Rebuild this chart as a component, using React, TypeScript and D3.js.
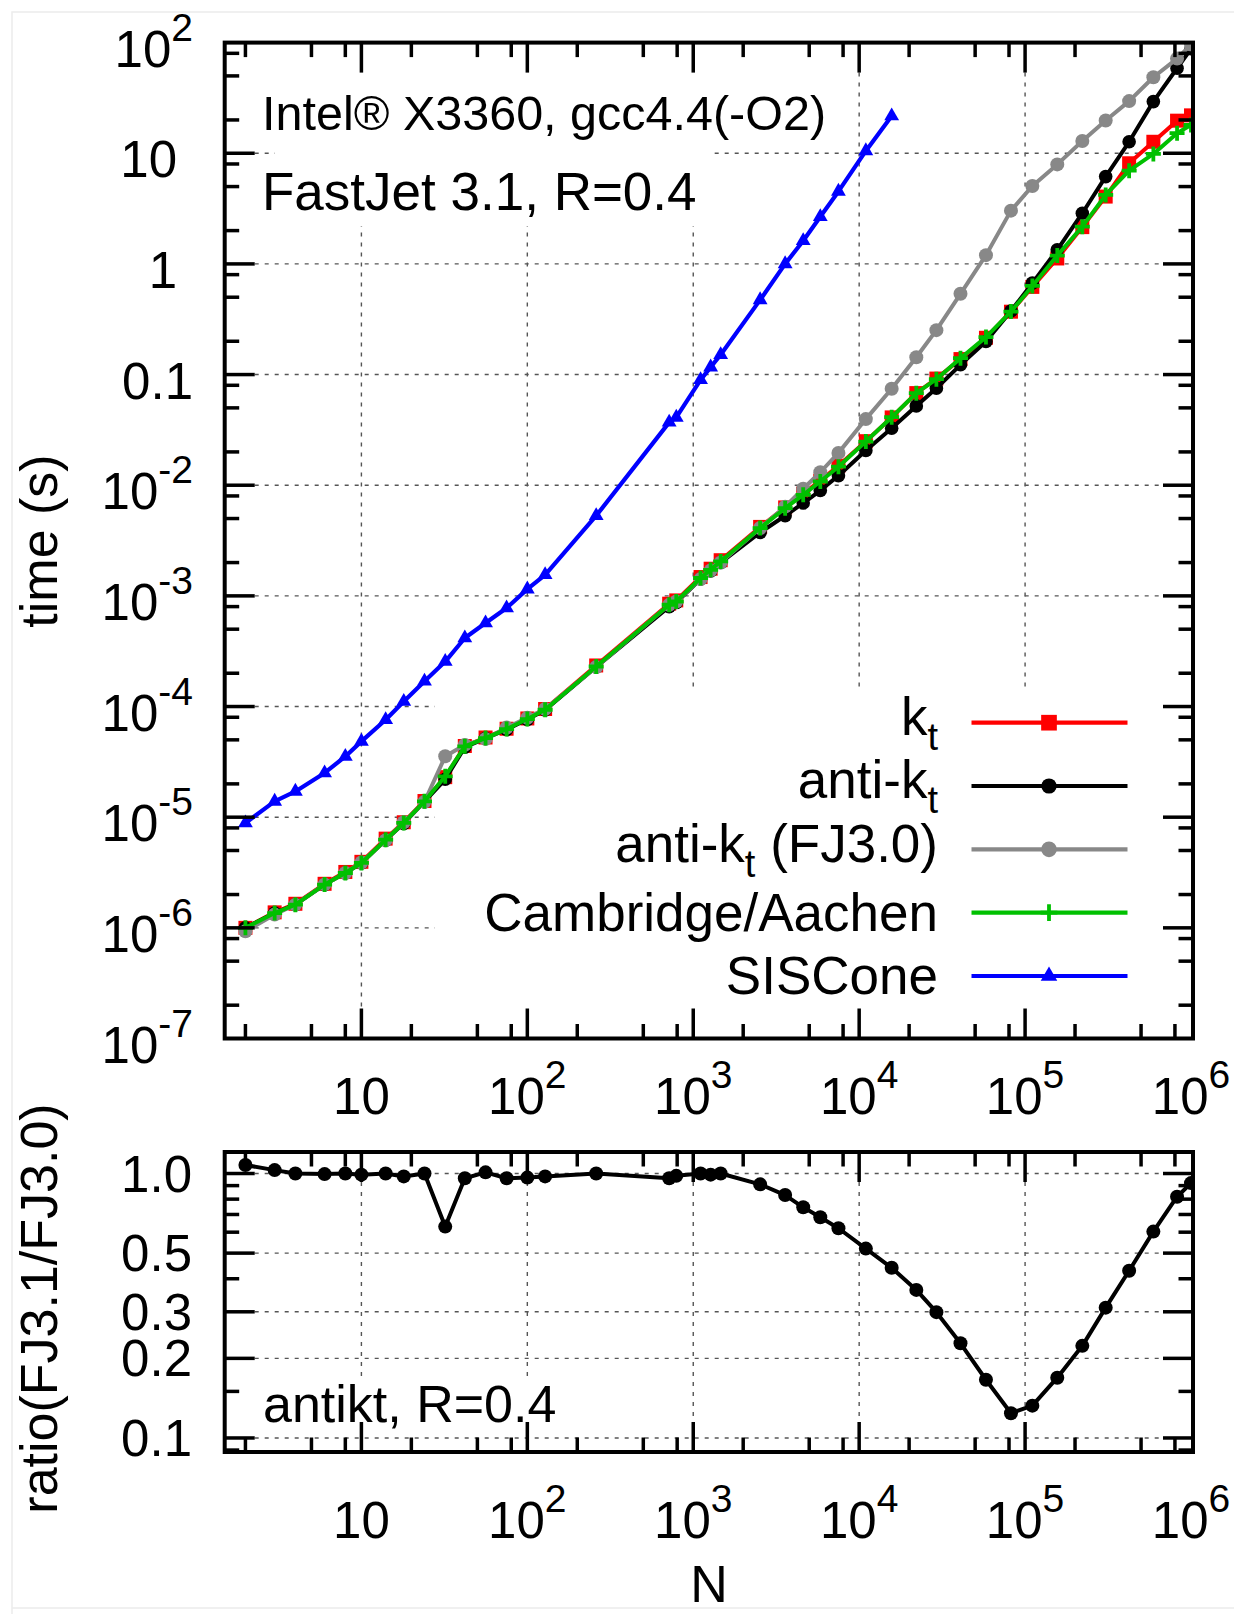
import React from 'react';
import * as d3 from 'd3';

// ---------------- data ----------------
const N = [2, 3, 4, 6, 8, 10, 14, 18, 24, 32, 42, 56, 75, 100, 128, 260, 716, 790, 1107, 1273, 1463, 2530, 3580, 4600, 5830, 7500, 10970, 15700, 22100, 29200, 40800, 58100, 82200, 110600, 156300, 221300, 306000, 423700, 593000, 824000, 1000000];

const ktTime = [1.0e-6, 1.38e-6, 1.65e-6, 2.5e-6, 3.2e-6, 3.95e-6, 6.4e-6, 9.0e-6, 1.4e-5, 2.3e-5, 4.4e-5, 5.25e-5, 6.3e-5, 7.8e-5, 9.5e-5, 2.35e-4, 8.5e-4, 9.1e-4, 1.48e-3, 1.76e-3, 2.1e-3, 4.2e-3, 6.3e-3, 8.4e-3, 1.1e-2, 1.5e-2, 2.5e-2, 4.1e-2, 6.8e-2, 0.092, 0.138, 0.215, 0.37, 0.62, 1.12, 2.15, 4.06, 8.12, 12.7, 19.7, 22];

const antiktTime = [1.0e-6, 1.36e-6, 1.62e-6, 2.46e-6, 3.13e-6, 3.86e-6, 6.2e-6, 8.8e-6, 1.38e-5, 2.2e-5, 4.3e-5, 5.15e-5, 6.2e-5, 7.65e-5, 9.3e-5, 2.28e-4, 8.0e-4, 8.7e-4, 1.42e-3, 1.68e-3, 2.0e-3, 3.74e-3, 5.3e-3, 6.9e-3, 8.95e-3, 1.22e-2, 2.06e-2, 3.28e-2, 5.21e-2, 0.0753, 0.1225, 0.1988, 0.375, 0.67, 1.34, 2.87, 6.15, 12.7, 29.3, 58.6, 88];

const antiktFJ30Time = [9.3e-7, 1.32e-6, 1.62e-6, 2.47e-6, 3.13e-6, 3.9e-6, 6.2e-6, 9.0e-6, 1.38e-5, 3.55e-5, 4.5e-5, 5.1e-5, 6.45e-5, 7.9e-5, 9.5e-5, 2.28e-4, 8.3e-4, 8.9e-4, 1.42e-3, 1.7e-3, 2.0e-3, 4.1e-3, 6.4e-3, 9.3e-3, 1.31e-2, 1.96e-2, 3.96e-2, 7.45e-2, 0.1435, 0.252, 0.537, 1.2, 3.03, 5.06, 7.93, 12.9, 19.8, 29.6, 48.6, 71.7, 96];

const caTime = [1.0e-6, 1.36e-6, 1.62e-6, 2.46e-6, 3.13e-6, 3.86e-6, 6.26e-6, 8.87e-6, 1.39e-5, 2.34e-5, 4.37e-5, 5.19e-5, 6.26e-5, 7.71e-5, 9.35e-5, 2.3e-4, 8.31e-4, 8.9e-4, 1.45e-3, 1.72e-3, 2.05e-3, 4.1e-3, 6.2e-3, 8.19e-3, 1.08e-2, 1.47e-2, 2.48e-2, 4.12e-2, 6.79e-2, 0.0908, 0.1406, 0.218, 0.371, 0.632, 1.19, 2.17, 4.2, 6.96, 9.86, 15.2, 18];

const sisconeN = [2, 3, 4, 6, 8, 10, 14, 18, 24, 32, 42, 56, 75, 100, 128, 260, 716, 790, 1107, 1273, 1463, 2530, 3580, 4600, 5830, 7500, 10970, 15700];
const sisconeTime = [8.87e-6, 1.39e-5, 1.71e-5, 2.51e-5, 3.54e-5, 4.84e-5, 7.6e-5, 1.11e-4, 1.69e-4, 2.55e-4, 4.16e-4, 5.68e-4, 7.76e-4, 1.15e-3, 1.55e-3, 5.3e-3, 0.037, 0.041, 0.0896, 0.1167, 0.151, 0.473, 1.0, 1.62, 2.67, 4.52, 10.5, 21.7];

const ratio = [1.077, 1.03, 1.0, 0.995, 1.0, 0.99, 1.0, 0.975, 1.0, 0.63, 0.96, 1.01, 0.96, 0.965, 0.975, 1.0, 0.96, 0.98, 1.0, 0.99, 1.0, 0.91, 0.829, 0.745, 0.683, 0.621, 0.52, 0.44, 0.363, 0.299, 0.228, 0.166, 0.124, 0.1325, 0.169, 0.223, 0.311, 0.429, 0.603, 0.817, 0.92];

const xMajorTicks = [10, 1e2, 1e3, 1e4, 1e5, 1e6];
const minorMultipliers = [2, 5, 8];
const timeMajorTicks = [1e-7, 1e-6, 1e-5, 1e-4, 1e-3, 1e-2, 0.1, 1, 10, 100];
const ratioMajorTicks = [0.1, 0.2, 0.3, 0.5, 1.0];
const ratioTickLabels = ['0.1', '0.2', '0.3', '0.5', '1.0'];
const ratioMinorTicks = [0.09, 0.15, 0.4, 0.6, 0.7, 0.8, 0.9];

const legendLabels = [
  { main: 'k', sub: 't', rest: '' },
  { main: 'anti-k', sub: 't', rest: '' },
  { main: 'anti-k', sub: 't', rest: ' (FJ3.0)' },
  { main: 'Cambridge/Aachen', sub: '', rest: '' },
  { main: 'SISCone', sub: '', rest: '' },
];

// ---------------- drawing ----------------
const FONT = '"Liberation Sans", Arial, Helvetica, sans-serif';
const W = 1234, H = 1614;
const L = 224.7, R = 1193;
const T1 = 42.6, B1 = 1038.5;
const T2 = 1152, B2 = 1452;

function expParts(v: number) {
  const e = Math.round(Math.log10(v));
  if (e === 0) return { base: '1', sup: '' };
  if (e === 1) return { base: '10', sup: '' };
  if (e === -1) return { base: '0.1', sup: '' };
  return { base: '10', sup: String(e) };
}

function Marker({ type, cx, cy, color, s = 1 }: any) {
  if (type === 'square') {
    const h = 7 * s;
    return <rect x={cx - h} y={cy - h} width={2 * h} height={2 * h} fill={color} />;
  }
  if (type === 'circle') {
    return <circle cx={cx} cy={cy} r={6.8 * s} fill={color} />;
  }
  if (type === 'circleBig') {
    return <circle cx={cx} cy={cy} r={7 * s} fill={color} />;
  }
  if (type === 'plus') {
    const h = 7.5 * s;
    return <path d={`M${cx - h},${cy}H${cx + h}M${cx},${cy - h}V${cy + h}`} stroke={color} strokeWidth={3.8} fill="none" />;
  }
  if (type === 'triangle') {
    const p = d3.symbol(d3.symbolTriangle, 95 * s * s)();
    return <path d={p as string} transform={`translate(${cx},${cy})`} fill={color} />;
  }
  return null;
}

export default function App() {
  const x = d3.scaleLog().domain([1.5, 1.028e6]).range([L, R]);
  const yT = d3.scaleLog().domain([1e-7, 100]).range([B1, T1]);
  const yB = d3.scaleLog().domain([0.0885, 1.206]).range([B2, T2]);

  const xMinor: number[] = [];
  for (let k = 0; k <= 5; k++) for (const m of minorMultipliers) {
    const v = m * Math.pow(10, k);
    if (v >= 1.5 && v <= 1.028e6) xMinor.push(v);
  }
  const yMinor: number[] = [];
  for (let k = -7; k <= 1; k++) for (const m of minorMultipliers) yMinor.push(m * Math.pow(10, k));

  const series = [
    { t: ktTime, color: '#ff0000', marker: 'square', n: N },
    { t: antiktTime, color: '#000000', marker: 'circle', n: N },
    { t: antiktFJ30Time, color: '#888888', marker: 'circleBig', n: N },
    { t: caTime, color: '#00c000', marker: 'plus', n: N },
    { t: sisconeTime, color: '#0000ff', marker: 'triangle', n: sisconeN },
  ];

  const lineTop = d3.line<[number, number]>().x(d => x(d[0])).y(d => yT(d[1]));
  const lineBot = d3.line<[number, number]>().x(d => x(d[0])).y(d => yB(d[1]));

  const grid = { stroke: '#555', strokeWidth: 1.4, strokeDasharray: '4 6', fill: 'none' };
  const tick = { stroke: '#000', strokeWidth: 3.5 };
  const MAJ = 30, MIN = 14.5;

  const xTickMarks = (top: number, bot: number, key: string) => (
    <g key={key}>
      {xMajorTicks.filter(v => v < 1e6).map((v, i) => (
        <g key={'M' + i}>
          <line x1={x(v)} x2={x(v)} y1={bot} y2={bot - MAJ} {...tick} />
          <line x1={x(v)} x2={x(v)} y1={top} y2={top + MAJ} {...tick} />
        </g>
      ))}
      {xMinor.map((v, i) => (
        <g key={'m' + i}>
          <line x1={x(v)} x2={x(v)} y1={bot} y2={bot - MIN} {...tick} />
          <line x1={x(v)} x2={x(v)} y1={top} y2={top + MIN} {...tick} />
        </g>
      ))}
    </g>
  );

  const xLabels = (baseline: number, key: string) => (
    <g key={key}>
      {xMajorTicks.map((v, i) => {
        const e = Math.round(Math.log10(v));
        return (
          <text key={i} x={x(v)} y={baseline} textAnchor="middle" fontSize={51} fontFamily={FONT}>
            <tspan>10</tspan>
            {e > 1 && <tspan dy={-26} fontSize={39}>{e}</tspan>}
          </text>
        );
      })}
    </g>
  );

  const legendY = [722.7, 786, 849.3, 912.7, 976];

  return (
    <div style={{ position: 'absolute', left: 0, top: 0 }}>
      <svg width={W} height={H} viewBox={`0 0 ${W} ${H}`} style={{ display: 'block', background: '#fff' }}>
        <defs>
          <clipPath id="clipTop"><rect x={L} y={T1} width={R - L} height={B1 - T1} /></clipPath>
          <clipPath id="clipBot"><rect x={L} y={T2} width={R - L} height={B2 - T2} /></clipPath>
        </defs>
        <rect x={0} y={0} width={W} height={H} fill="#fff" />
        {/* faint outer border */}
        <path d={`M12,${H}V12H${W}M12,1608H${W}`} stroke="#ececec" strokeWidth={1.5} fill="none" />

        {/* ---------- top panel grid ---------- */}
        {xMajorTicks.filter(v => v < 1e6).map((v, i) => (
          <line key={'gxT' + i} x1={x(v)} x2={x(v)} y1={T1} y2={B1} {...grid} />
        ))}
        {timeMajorTicks.filter(v => v > 1e-7 && v < 100).map((v, i) => (
          <line key={'gyT' + i} x1={L} x2={R} y1={yT(v)} y2={yT(v)} {...grid} />
        ))}
        {/* opaque label / key boxes */}
        <rect x={255} y={45} width={585} height={105} fill="#fff" />
        <rect x={275} y={150} width={438} height={76} fill="#fff" />
        <rect x={435} y={692} width={R - 2 - 435} height={B1 - 2 - 692} fill="#fff" />

        {/* ---------- top panel data ---------- */}
        <g clipPath="url(#clipTop)">
          {series.map((s, si) => {
            const pts = s.n.map((n, i) => [n, s.t[i]] as [number, number]);
            return (
              <g key={'s' + si}>
                <path d={lineTop(pts) as string} fill="none" stroke={s.color} strokeWidth={si === 4 ? 4.2 : 4} strokeLinejoin="round" />
                {pts.map((p, i) => (
                  <Marker key={i} type={s.marker} cx={x(p[0])} cy={yT(p[1])} color={s.color} />
                ))}
              </g>
            );
          })}
        </g>

        {/* texts in top panel */}
        <text x={262} y={130} fontSize={48.5} fontFamily={FONT}>Intel® X3360, gcc4.4(-O2)</text>
        <text x={262} y={210} fontSize={53} fontFamily={FONT}>FastJet 3.1, R=0.4</text>

        {/* legend */}
        {legendLabels.map((lab, i) => {
          const s = series[i];
          const cy = legendY[i];
          const hasSub = lab.sub !== '';
          return (
            <g key={'leg' + i}>
              <text x={938} y={cy + (hasSub ? 12.3 : 18)} textAnchor="end" fontSize={53} fontFamily={FONT} style={{ whiteSpace: 'pre' }}>
                <tspan>{lab.main}</tspan>
                {hasSub && <tspan dy={15} fontSize={38}>{lab.sub}</tspan>}
                {lab.rest && <tspan dy={-15}>{lab.rest}</tspan>}
              </text>
              <line x1={971.5} x2={1127.5} y1={cy} y2={cy} stroke={s.color} strokeWidth={4.2} />
              <Marker type={s.marker} cx={1049} cy={cy} color={s.color} s={1.12} />
            </g>
          );
        })}

        {/* top panel ticks */}
        {xTickMarks(T1, B1, 'xtT')}
        {timeMajorTicks.filter(v => v > 1e-7 && v < 100).map((v, i) => (
          <g key={'ytM' + i}>
            <line x1={L} x2={L + MAJ} y1={yT(v)} y2={yT(v)} {...tick} />
            <line x1={R} x2={R - MAJ} y1={yT(v)} y2={yT(v)} {...tick} />
          </g>
        ))}
        {yMinor.map((v, i) => (
          <g key={'ytm' + i}>
            <line x1={L} x2={L + MIN} y1={yT(v)} y2={yT(v)} {...tick} />
            <line x1={R} x2={R - MIN} y1={yT(v)} y2={yT(v)} {...tick} />
          </g>
        ))}
        <rect x={L} y={T1} width={R - L} height={B1 - T1} fill="none" stroke="#000" strokeWidth={4} />

        {/* top panel y labels */}
        {timeMajorTicks.map((v, i) => {
          const p = expParts(v);
          const xe = (p.base === '10' && !p.sup) || p.base === '1' ? 177 : 193;
          return (
            <text key={'ytl' + i} x={xe} y={yT(v) + 24} textAnchor="end" fontSize={51} fontFamily={FONT}>
              <tspan>{p.base}</tspan>
              {p.sup && <tspan dy={-26} fontSize={39}>{p.sup}</tspan>}
            </text>
          );
        })}
        {xLabels(1114, 'xlT')}
        <text transform={`translate(57,541) rotate(-90)`} textAnchor="middle" fontSize={52} fontFamily={FONT}>time (s)</text>

        {/* ---------- bottom panel ---------- */}
        {xMajorTicks.filter(v => v < 1e6).map((v, i) => (
          <line key={'gxB' + i} x1={x(v)} x2={x(v)} y1={T2} y2={B2} {...grid} />
        ))}
        {ratioMajorTicks.map((v, i) => (
          <line key={'gyB' + i} x1={L} x2={R} y1={yB(v)} y2={yB(v)} {...grid} />
        ))}
        <rect x={255} y={1380} width={318} height={52} fill="#fff" />

        <g clipPath="url(#clipBot)">
          <path d={lineBot(N.map((n, i) => [n, ratio[i]] as [number, number])) as string} fill="none" stroke="#000" strokeWidth={4} strokeLinejoin="round" />
          {N.map((n, i) => (
            <circle key={i} cx={x(n)} cy={yB(ratio[i])} r={7} fill="#000" />
          ))}
        </g>
        <text x={263} y={1421.5} fontSize={52} fontFamily={FONT}>antikt, R=0.4</text>

        {xTickMarks(T2, B2, 'xtB')}
        {ratioMajorTicks.map((v, i) => (
          <g key={'yrM' + i}>
            <line x1={L} x2={L + MAJ} y1={yB(v)} y2={yB(v)} {...tick} />
            <line x1={R} x2={R - MAJ} y1={yB(v)} y2={yB(v)} {...tick} />
          </g>
        ))}
        {ratioMinorTicks.map((v, i) => (
          <g key={'yrm' + i}>
            <line x1={L} x2={L + MIN} y1={yB(v)} y2={yB(v)} {...tick} />
            <line x1={R} x2={R - MIN} y1={yB(v)} y2={yB(v)} {...tick} />
          </g>
        ))}
        <rect x={L} y={T2} width={R - L} height={B2 - T2} fill="none" stroke="#000" strokeWidth={4} />

        {ratioMajorTicks.map((v, i) => (
          <text key={'yrl' + i} x={192} y={yB(v) + 18} textAnchor="end" fontSize={51} fontFamily={FONT}>{ratioTickLabels[i]}</text>
        ))}
        {xLabels(1538, 'xlB')}
        <text transform={`translate(57,1308.5) rotate(-90)`} textAnchor="middle" fontSize={52} fontFamily={FONT}>ratio(FJ3.1/FJ3.0)</text>
        <text x={709} y={1602} textAnchor="middle" fontSize={52} fontFamily={FONT}>N</text>
      </svg>
    </div>
  );
}
